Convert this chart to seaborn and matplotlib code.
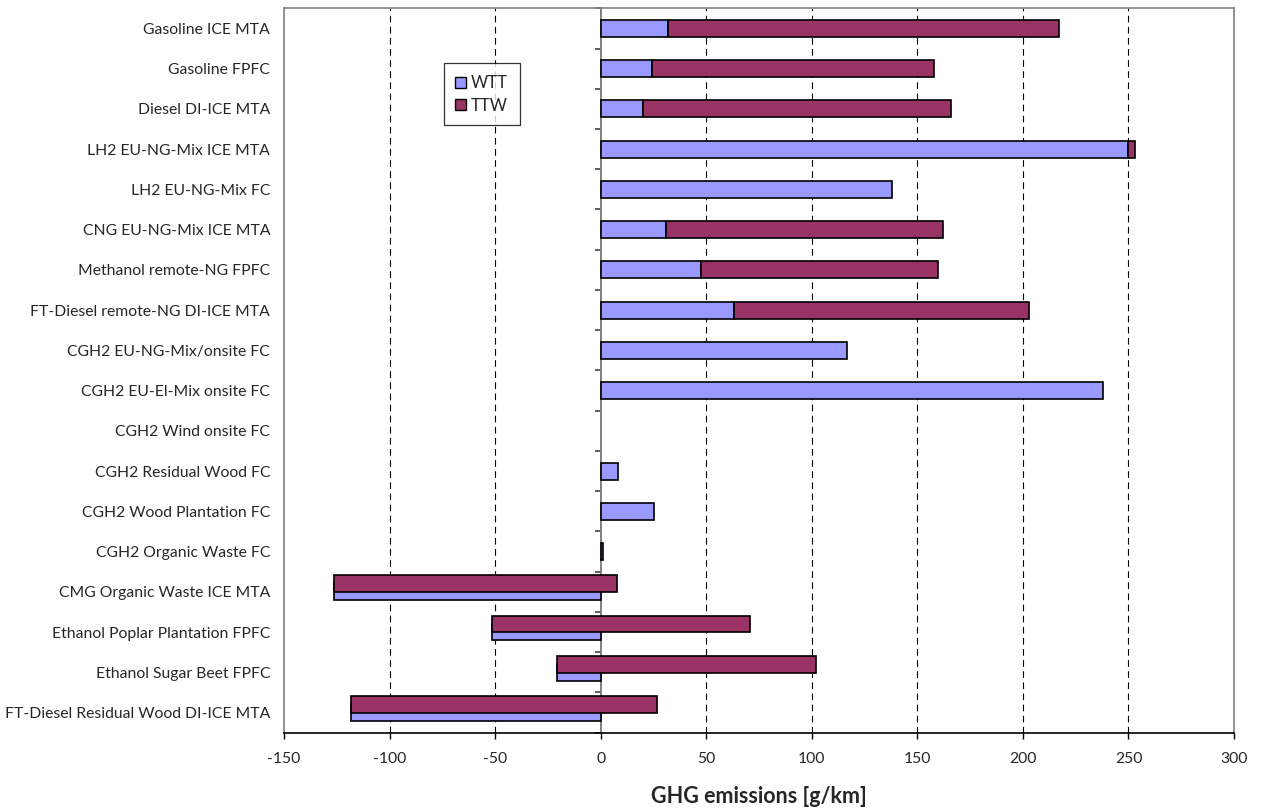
import numpy as np
import pandas as pd
import matplotlib
matplotlib.use("Agg")
import matplotlib.pyplot as plt
from matplotlib.patches import Patch
import seaborn as sns

# Data (g/km)
categories = [
    "Gasoline ICE MTA",
    "Gasoline FPFC",
    "Diesel DI-ICE MTA",
    "LH2 EU-NG-Mix ICE MTA",
    "LH2 EU-NG-Mix FC",
    "CNG EU-NG-Mix ICE MTA",
    "Methanol remote-NG FPFC",
    "FT-Diesel remote-NG DI-ICE MTA",
    "CGH2 EU-NG-Mix/onsite FC",
    "CGH2 EU-El-Mix onsite FC",
    "CGH2 Wind onsite FC",
    "CGH2 Residual Wood FC",
    "CGH2 Wood Plantation FC",
    "CGH2 Organic Waste FC",
    "CMG Organic Waste ICE MTA",
    "Ethanol Poplar Plantation FPFC",
    "Ethanol Sugar Beet FPFC",
    "FT-Diesel Residual Wood DI-ICE MTA",
]
wtt = [32.1, 24.3, 19.9, 249.8, 138.1, 31.0, 47.4, 63.3, 116.9, 237.9,
       0.0, 8.2, 25.1, 1.0, -126.4, -51.6, -20.6, -118.2]
ttw = [185.0, 133.8, 146.1, 3.4, 0.0, 131.1, 112.6, 139.7, 0.0, 0.0,
       0.0, 0.0, 0.0, 0.0, 134.3, 122.5, 122.5, 144.8]
x_ticks = [-150, -100, -50, 0, 50, 100, 150, 200, 250, 300]

WTT_COLOR = "#9999ff"
TTW_COLOR = "#993366"
BAR_H = 0.42

sns.set_theme(style="white")
plt.rcParams["font.family"] = ["Lato", "DejaVu Sans"]

df = pd.DataFrame({"pathway": categories, "WTT": wtt, "TTW": ttw})

fig = plt.figure(figsize=(12.61, 8.11), dpi=100)
ax = fig.add_axes([0.2252, 0.0966, 0.7534, 0.8932])

# dashed grid on the inner ticks only
for v in x_ticks[1:-1]:
    if v != 0:
        ax.axvline(v, color="black", linestyle=(0, (6, 4)), linewidth=0.8, zorder=0)

# WTT bars through seaborn
sns.barplot(data=df, x="WTT", y="pathway", order=categories, orient="h",
            color=WTT_COLOR, width=BAR_H, edgecolor="black", linewidth=1.2,
            saturation=1, ax=ax, zorder=2)
for p in ax.patches:
    if p.get_width() == 0:
        p.set_visible(False)

# TTW stacked on WTT; rows with negative WTT overlap, shifted upwards
ypos = np.arange(len(df))
shift = np.where(df["WTT"] < 0, -0.2, 0.0)
has_ttw = df["TTW"] > 0
ax.barh(ypos[has_ttw] + shift[has_ttw], df["TTW"][has_ttw], left=df["WTT"][has_ttw],
        height=BAR_H, color=TTW_COLOR, edgecolor="black", linewidth=1.2, zorder=3)

ax.set_xlim(-150, 300)
ax.set_ylim(len(df) - 0.5, -0.5)
ax.set_xticks(x_ticks)
ax.set_xticklabels([str(v) for v in x_ticks])
ax.tick_params(axis="x", direction="out", length=4, width=1, color="black",
               labelsize=11.3, pad=10, bottom=True)
ax.tick_params(axis="y", length=0, labelsize=11.3, pad=10)
ax.set_ylabel("")
ax.set_xlabel("GHG emissions [g/km]", fontsize=15.5, fontweight="bold", labelpad=14)
ax.grid(False)

for side in ["left", "top", "right"]:
    ax.spines[side].set_color("#808080")
    ax.spines[side].set_linewidth(1.2)
ax.spines["bottom"].set_color("black")
ax.spines["bottom"].set_linewidth(1.2)

# value axis line at x = 0 with category tick marks
ax.axvline(0, color="#808080", linewidth=1.3, zorder=1)
zero_pos = (0 - x_ticks[0]) / (x_ticks[-1] - x_ticks[0])
sec = ax.secondary_yaxis(zero_pos)
sec.set_yticks(np.arange(-0.5, len(df), 1.0))
sec.set_yticklabels([])
sec.tick_params(direction="out", length=4.5, width=1.1, color="#333333")
sec.spines["left"].set_color("#808080")
sec.spines["left"].set_linewidth(1.2)

handles = [Patch(facecolor=WTT_COLOR, edgecolor="black", label="WTT"),
           Patch(facecolor=TTW_COLOR, edgecolor="black", label="TTW")]
leg = ax.legend(handles=handles, loc="upper left", bbox_to_anchor=(0.168, 0.924),
                fontsize=12, frameon=True, fancybox=False, borderaxespad=0,
                handlelength=0.65, handleheight=0.65, handletextpad=0.3,
                labelspacing=0.4, borderpad=0.7)
leg.get_frame().set_edgecolor("black")
leg.get_frame().set_linewidth(0.9)

fig.savefig("out.png", dpi=100)
